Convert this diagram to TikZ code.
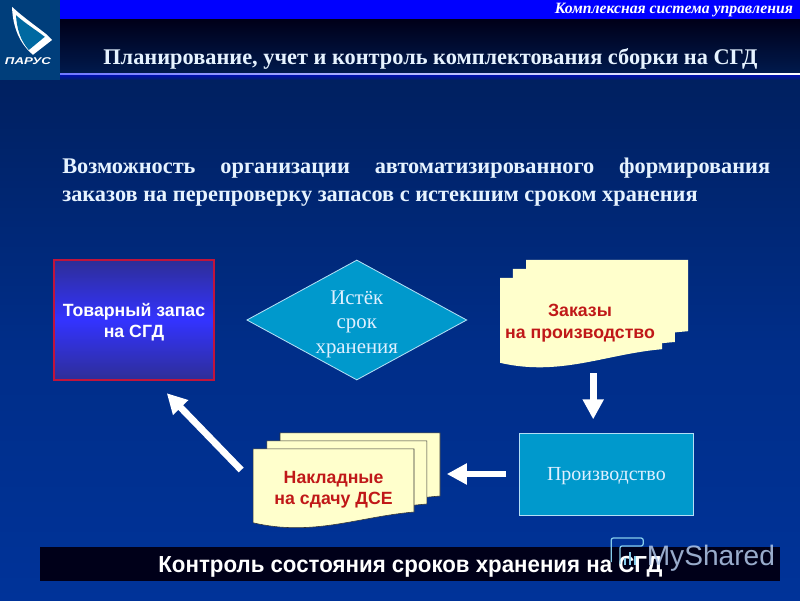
\documentclass[tikz,border=0pt]{standalone}
\usepackage{fontspec}
\setmainfont{Liberation Serif}
\setsansfont{Liberation Sans}
\usepackage{tikz}
\usetikzlibrary{arrows.meta,shapes.geometric}
\definecolor{deepnavy}{HTML}{002060}
\definecolor{slideblue}{HTML}{003399}
\definecolor{sheet}{HTML}{FFFFCC}
\definecolor{teal}{HTML}{0099CC}
\definecolor{paleblue}{HTML}{E0F0FF}
\definecolor{redtext}{HTML}{C01818}
\definecolor{boxred}{HTML}{C0143C}
\definecolor{dullblue}{HTML}{2E2E96}
\tikzset{
	fatarrow/.style={white, line width=0.17cm, -{Triangle[length=0.5cm, width=0.5cm]}},
	tealshape/.style={fill=teal, draw=paleblue!80!teal, line width=0.6pt},
	tealtext/.style={text=paleblue, inner sep=0pt, align=center},
	doclabel/.style={align=center, text=redtext, font=\sffamily\bfseries\fontsize{12.6}{15}\selectfont},
}
% one sheet with a wavy foot: left edge, top, right edge, foot of right edge, foot of left edge
\newcommand{\docsheet}[6][]{
	\draw[fill=sheet, #1] (#2,#3) -- (#4,#3) -- (#4,#5)
		.. controls ({#4-1.4},{#5-0.12}) and ({#2+1.5},{#6-0.35}) .. (#2,#6) -- cycle;
}
\begin{document}
\begin{tikzpicture}
	\useasboundingbox (0,0) rectangle (20,15);
	\shade[top color=deepnavy, bottom color=slideblue, middle color=slideblue!70!deepnavy] (0,0) rectangle (20,13);
	% header
	\fill[blue] (1.5,14.5) rectangle (20,15);
	\shade[top color=black!90!blue, bottom color=deepnavy!80!black] (1.5,13.18) rectangle (20,14.5);
	\shade[top color=blue!60!deepnavy, bottom color=deepnavy] (1.5,13) rectangle (20,13.15);
	\shade[left color=blue!50!paleblue, right color=white] (1.5,13.13) rectangle (20,13.17);
	\fill[deepnavy!75!teal] (0,13) rectangle (1.5,15);
	% sail
	\fill[white] (0.3,14.83) .. controls (0.6,14.55) and (0.9,14.35) .. (1.175,14.13) -- (1.3,14) -- (0.825,13.63)
		.. controls (0.5,13.9) and (0.32,14.3) .. cycle;
	\fill[teal!60!deepnavy] (0.4,14.62) .. controls (0.65,14.4) and (0.9,14.25) .. (1.12,14.08) -- (0.72,13.75)
		.. controls (0.5,14) and (0.42,14.3) .. cycle;
	\node[white, inner sep=0pt, xscale=1.35, font=\sffamily\bfseries\itshape\fontsize{7}{8}\selectfont] (logo) at (0.7,13.48) {ПАРУС};
	\node[white, anchor=east, inner sep=0pt, font=\bfseries\itshape\fontsize{11.2}{12}\selectfont] (system) at (19.83,14.75) {Комплексная система управления};
	\node[paleblue!80!white, inner sep=0pt, font=\bfseries\fontsize{15.9}{18}\selectfont] (title) at (10.76,13.52) {Планирование, учет и контроль комплектования сборки на СГД};
	\node[anchor=north west, inner sep=0pt, text width=17.7cm, align=justify, text=paleblue!80!white, font=\bfseries\fontsize{15.9}{20}\selectfont] (intro) at (1.55,11.05)
		{Возможность организации автоматизированного формирования\linebreak заказов на перепроверку запасов с истекшим сроком хранения};
	% stock box
	\node[minimum width=4cm, minimum height=3cm, inner sep=0pt] (stock) at (3.35,7) {};
	\shade[top color=dullblue, bottom color=dullblue, middle color=blue!80!white, draw=boxred, line width=1.6pt] (stock.south west) rectangle (stock.north east);
	\node[white, align=center, font=\sffamily\bfseries\fontsize{12.6}{15}\selectfont] at (3.35,6.95) {Товарный запас\\на СГД};
	% decision
	\node[diamond, tealshape, minimum width=5.5cm, minimum height=3cm, inner sep=0pt, aspect=1.83] (expired) at (8.92,7) {};
	\node[tealtext, font=\fontsize{14.8}{17.4}\selectfont] (expiredtext) at (8.92,6.9) {Истёк\\срок\\хранения};
	% orders
	\docsheet[draw=none]{13.15}{8.5}{17.2}{6.72}{6.72}
	\docsheet[draw=none]{12.82}{8.28}{16.87}{6.45}{6.45}
	\docsheet[draw=none]{12.5}{8.05}{16.55}{6.27}{5.93}
	\node[doclabel] (orders) at (14.5,6.92) {Заказы\\на производство};
	% production
	\node[tealshape, text=paleblue, text depth=0pt, font=\fontsize{14.2}{17}\selectfont, minimum width=4.33cm, minimum height=2.05cm, inner sep=0pt] (production) at (15.16,3.15) {Производство};
	% waybills
	\docsheet[draw=black!80]{7}{4.18}{11}{2.6}{2.6}
	\docsheet[draw=black!80]{6.67}{3.98}{10.67}{2.4}{2.4}
	\docsheet[draw=black!80]{6.33}{3.78}{10.35}{2.2}{1.93}
	\node[doclabel] (waybills) at (8.34,2.76) {Накладные\\на сдачу ДСЕ};
	% arrows
	\coordinate (ordersfoot) at (14.83,5.67);
	\coordinate (waybillsout) at (6.03,3.25);
	\coordinate (stockin) at (4.17,5.17);
	\draw[fatarrow, shorten >=0.33cm] (ordersfoot) -- (production.north -| ordersfoot);
	\draw[fatarrow, shorten <=0.33cm] (production.west) -- (11.17,3.15);
	\draw[fatarrow] (waybillsout) -- (stockin);
	% footer
	\fill[black!90!blue] (1,0.47) rectangle (19.5,1.33);
	\node[white, inner sep=0pt, xscale=0.96, font=\sffamily\bfseries\fontsize{16.5}{18}\selectfont] (control) at (10.26,0.82) {Контроль состояния сроков хранения на СГД};
	% watermark
	\node[paleblue!80!slideblue, opacity=0.85, anchor=east, inner sep=0pt, font=\sffamily\fontsize{20}{22}\selectfont] (brand) at (19.38,1.05) {MyShared};
	\draw[paleblue!60!teal, line width=0.9pt, rounded corners=1.5pt] (15.28,0.95) -- (15.28,1.55) -- (16.08,1.55) -- (16.08,1.35) -- (15.5,1.35) -- (15.5,0.9);
	\draw[paleblue!60!teal, line width=1.1pt] (15.62,0.88) -- (15.62,1.05) (15.75,0.88) -- (15.75,1.2) (15.88,0.88) -- (15.88,1.1);
\end{tikzpicture}
\end{document}
